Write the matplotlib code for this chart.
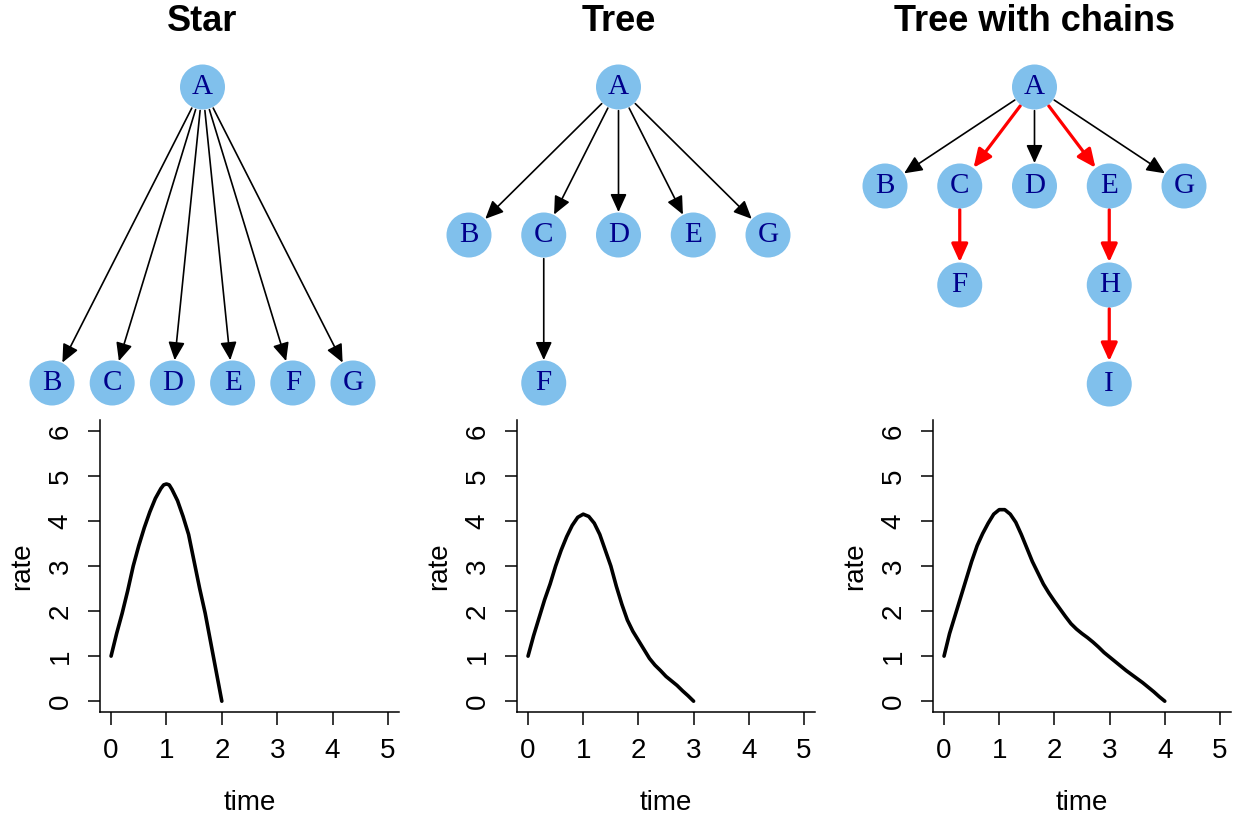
import numpy as np
import matplotlib.pyplot as plt

plt.rcParams['font.family'] = ['Liberation Sans', 'DejaVu Sans']

# graphs: (parent, child) edges
titles = ["Star", "Tree", "Tree with chains"]
star_edges = [("A", "B"), ("A", "C"), ("A", "D"), ("A", "E"), ("A", "F"), ("A", "G")]
tree_edges = [("A", "B"), ("A", "C"), ("A", "D"), ("A", "E"), ("A", "G"), ("C", "F")]
chain_edges = [("A", "B"), ("A", "C"), ("A", "D"), ("A", "E"), ("A", "G"),
               ("C", "F"), ("E", "H"), ("H", "I")]
chain_red = [("A", "C"), ("C", "F"), ("A", "E"), ("E", "H"), ("H", "I")]

# rate curves under each graph
star_time = [0, 0.1, 0.2, 0.3, 0.4, 0.5, 0.6, 0.7, 0.8, 0.9, 0.95, 1.0, 1.05,
             1.1, 1.2, 1.3, 1.4, 1.5, 1.6, 1.7, 1.8, 1.9, 2.0]
star_rate = [1.0, 1.5, 1.95, 2.45, 3.0, 3.45, 3.85, 4.2, 4.5, 4.72, 4.8, 4.82, 4.8,
             4.7, 4.45, 4.1, 3.7, 3.1, 2.5, 1.95, 1.3, 0.65, 0.0]

tree_time = [0, 0.1, 0.2, 0.3, 0.4, 0.5, 0.6, 0.7, 0.8, 0.9, 1.0,
             1.1, 1.2, 1.3, 1.4, 1.5, 1.6, 1.7, 1.8, 1.9, 2.0,
             2.1, 2.2, 2.3, 2.4, 2.5, 2.6, 2.7, 2.8, 2.9, 3.0]
tree_rate = [1.0, 1.45, 1.85, 2.25, 2.6, 3.0, 3.35, 3.65, 3.9, 4.08, 4.15,
             4.1, 3.95, 3.7, 3.35, 3.0, 2.55, 2.15, 1.8, 1.55, 1.35,
             1.15, 0.95, 0.8, 0.68, 0.55, 0.45, 0.35, 0.23, 0.12, 0.0]

chain_time = [0, 0.1, 0.2, 0.3, 0.4, 0.5, 0.6, 0.7, 0.8, 0.9, 1.0,
              1.1, 1.2, 1.3, 1.4, 1.5, 1.6, 1.7, 1.8, 1.9, 2.0,
              2.1, 2.2, 2.3, 2.4, 2.5, 2.6, 2.7, 2.8, 2.9, 3.0,
              3.1, 3.2, 3.3, 3.4, 3.5, 3.6, 3.7, 3.8, 3.9, 4.0]
chain_rate = [1.0, 1.5, 1.9, 2.3, 2.7, 3.1, 3.45, 3.72, 3.95, 4.15, 4.25,
              4.25, 4.15, 3.97, 3.7, 3.4, 3.1, 2.85, 2.6, 2.4, 2.22,
              2.05, 1.88, 1.72, 1.6, 1.5, 1.41, 1.31, 1.2, 1.08, 0.98,
              0.88, 0.78, 0.68, 0.59, 0.5, 0.41, 0.31, 0.21, 0.1, 0.0]

graphs = [(star_edges, []), (tree_edges, []), (chain_edges, chain_red)]
curves = [(star_time, star_rate), (tree_time, tree_rate), (chain_time, chain_rate)]

node_fill = '#80C0EC'
label_col = '#00008B'


def tree_layout(edges):
    # leaves get consecutive x in DFS order, parents sit over their children
    kids = {}
    for p, c in edges:
        kids.setdefault(p, []).append(c)
    root = edges[0][0]
    pos = {}
    leaf = [0]

    def walk(n, d):
        if n in kids:
            xs = [walk(c, d + 1) for c in kids[n]]
            x = np.mean(xs)
        else:
            x = leaf[0]
            leaf[0] += 1
        pos[n] = (x, d)
        return x
    walk(root, 0)
    xmax = max(p[0] for p in pos.values())
    dmax = max(p[1] for p in pos.values())
    return {n: (x / xmax, d / dmax) for n, (x, d) in pos.items()}


W, H = 1233, 818


def box(l, t, r, b):
    return [l / W, 1 - b / H, (r - l) / W, (b - t) / H]


graph_boxes = [box(52, 87, 353, 383), box(469, 87, 768, 383), box(885, 87, 1184, 384)]
rate_boxes = [box(100, 420, 399, 712), box(517, 420, 815, 712), box(933, 420, 1231, 712)]

fig = plt.figure(figsize=(12.33, 8.18), dpi=100)

for i in range(3):
    edges, red = graphs[i]
    pos = tree_layout(edges)
    ax = fig.add_axes(graph_boxes[i])
    ax.set_xlim(0, 1)
    ax.set_ylim(1, 0)
    ax.axis('off')
    for p, c in edges:
        is_red = (p, c) in red
        ax.annotate('', xy=pos[c], xytext=pos[p], annotation_clip=False,
                    arrowprops=dict(arrowstyle='-|>,head_length=11,head_width=5',
                                    mutation_scale=1,
                                    color='red' if is_red else 'black',
                                    lw=2.3 if is_red else 1.2,
                                    shrinkA=17, shrinkB=16.5))
    names = list(pos)
    ax.scatter([pos[n][0] for n in names], [pos[n][1] for n in names],
               s=1050, color=node_fill, edgecolors='none', zorder=3, clip_on=False)
    for n in names:
        ax.text(pos[n][0], pos[n][1], n, ha='center', va='center', fontsize=21,
                family='Liberation Serif', color=label_col, zorder=4)
    ax.text(0.5, 1.22, titles[i], transform=ax.transAxes, ha='center', va='center',
            fontsize=26, fontweight='bold')

    t, r = curves[i]
    ax2 = fig.add_axes(rate_boxes[i])
    ax2.plot(t, r, color='black', lw=2.6, solid_capstyle='round',
             solid_joinstyle='round')
    ax2.set_xlim(-0.2, 5.2)
    ax2.set_ylim(-0.24, 6.24)
    ax2.set_xticks(range(6))
    ax2.set_yticks(range(7))
    ax2.spines['top'].set_visible(False)
    ax2.spines['right'].set_visible(False)
    for s in ('left', 'bottom'):
        ax2.spines[s].set_linewidth(1.1)
    ax2.tick_params(direction='out', length=9, width=1.1, labelsize=20, pad=10)
    for lab in ax2.get_yticklabels():
        lab.set_rotation(90)
        lab.set_va('center')
    ax2.set_xlabel('time', fontsize=20)
    ax2.set_ylabel('rate', fontsize=20)
    ax2.xaxis.set_label_coords(0.5, -0.31)
    ax2.xaxis.label.set_va('center')
    ax2.yaxis.set_label_coords(-0.26, 0.5)
    ax2.yaxis.label.set_va('center')

fig.savefig('out.png', dpi=100)
